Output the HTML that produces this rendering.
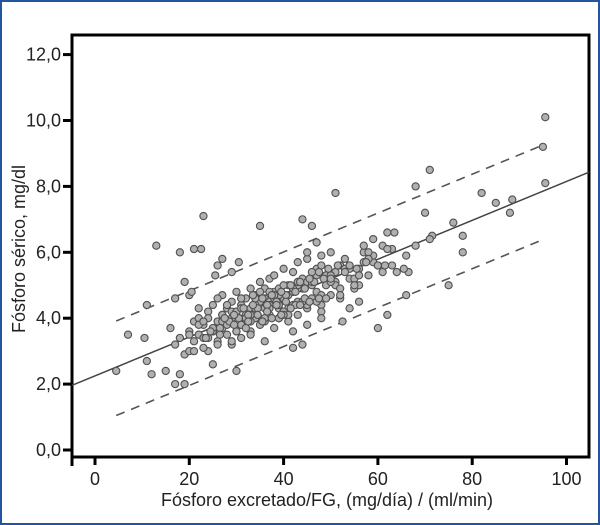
<!DOCTYPE html>
<html><head><meta charset="utf-8"><style>
html,body{margin:0;padding:0;background:#fff}
#wrap{position:relative;width:600px;height:525px;box-sizing:border-box;border:2px solid #2255a0;overflow:hidden}
svg{position:absolute;left:0;top:0}
text{font-family:"Liberation Sans",sans-serif;fill:#222}
</style></head><body>
<div id="wrap">
<svg id="chart" width="600" height="525"></svg>
</div>
<script>
const xTicks=[0,20,40,60,80,100];
const yTicks=[0,2,4,6,8,10,12];
const yTickLabels=["0,0","2,0","4,0","6,0","8,0","10,0","12,0"];
const fitIntercept=2.25, fitSlope=0.059, bandUpper=1.4, bandLower=-1.47;
const xs=[95.5,95,95.5,88,88.5,85,82,78,76,78,71,68,70,71.5,71,66,75,66.5,65.5,62,61,63.5,60,51,44,46,47,23,13,35,4.5,7,11,10.5,12,11,15,19,17,18,25,30,24,42,44,60,62,17,20,22,27,29,
16,17,18,19,20,20,21,21,22,22,23,23,24,24,25,25,26,26,26,27,27,28,28,28,29,29,29,30,30,30,31,31,31,32,32,32,33,33,33,34,34,34,35,35,35,36,36,36,37,37,37,38,38,38,39,39,39,40,40,40,41,41,41,42,42,42,43,43,43,44,44,45,45,46,46,47,47,48,48,49,49,50,50,51,51,52,52,53,54,55,56,57,58,59,
19,21,23,25,27,29,31,33,35,37,39,41,43,45,47,49,51,53,55,57,59,61,63,
18,20,22,24,26,28,30,32,34,36,38,40,42,44,46,48,50,52,54,56,58,60,
21,23,25,27,29,31,33,35,37,39,41,43,45,47,49,
26,28,30,32,34,36,38,40,42,44,46,48,50,52,54,56,
27,30,33,36,39,42,45,48,31,34,37,40,43,46,
64,62,58,57,55,53,66,68,63,59,56,54,50,48,45,
22.5,24.5,26.5,28.5,30.5,32.5,34.5,36.5,38.5,40.5,42.5,44.5,46.5,48.5,25.5,27.5,29.5,31.5,33.5,35.5,37.5,39.5,41.5,43.5,45.5,47.5,49.5,51.5,
30.5,32.5,34.5,36.5,38.5,40.5,42.5,44.5,33.5,35.5,37.5,39.5,41.5,43.5,45.5,47.5,20.5,23.5,26.5,29.5,52.5,55.5,57.5,61.5];
const ys=[10.1,9.2,8.1,7.2,7.6,7.5,7.8,6.5,6.9,6.0,8.5,8.0,7.2,6.5,6.4,4.7,5.0,5.4,5.5,6.6,6.2,6.6,5.6,7.8,7.0,6.8,6.3,7.1,6.2,6.8,2.4,3.5,4.4,3.4,2.3,2.7,2.4,2.0,2.0,2.3,2.6,2.4,3.0,3.1,3.2,3.7,4.1,4.6,4.7,4.3,4.7,5.4,
3.7,3.2,3.4,2.9,3.6,3.0,3.3,3.9,3.5,4.0,3.1,3.8,4.2,3.4,3.6,4.4,3.3,3.9,4.6,3.7,4.1,3.5,4.3,3.9,3.2,4.0,4.5,3.6,4.2,4.8,3.8,4.4,3.4,4.1,4.6,3.9,4.3,4.9,3.6,4.0,4.7,4.2,5.1,3.8,4.4,4.9,3.9,4.6,5.2,4.1,4.5,3.7,4.8,5.3,4.3,4.9,4.0,4.6,5.5,4.2,4.7,5.0,3.9,4.4,5.4,4.8,5.7,4.1,4.5,5.2,4.9,5.8,4.3,5.1,4.6,5.5,4.8,5.9,4.4,5.3,5.0,6.0,4.7,5.4,5.1,5.6,4.6,5.8,5.2,4.9,5.5,6.0,5.3,5.7,5.1,
3.0,3.4,3.6,3.9,4.2,3.8,4.1,4.5,4.4,4.7,4.3,4.9,5.1,4.5,5.3,5.0,5.5,5.2,5.7,5.9,5.4,6.1,6.0,
3.5,3.8,4.0,3.2,4.4,4.1,3.7,4.3,4.0,4.6,4.2,4.8,4.5,5.0,4.7,5.1,4.9,5.5,5.3,6.0,5.6,6.1,
3.9,3.7,4.1,3.3,4.6,3.5,4.8,4.3,4.4,4.1,5.0,4.4,5.3,4.6,5.6,
3.8,4.2,4.0,4.4,4.3,4.7,4.1,4.9,4.5,5.1,4.2,5.3,4.7,5.6,5.0,5.8,
3.6,3.9,3.3,4.0,3.6,3.8,4.0,4.3,4.6,4.8,5.0,5.1,5.4,5.4,
6.1,5.8,6.2,5.0,5.4,5.9,6.2,5.6,6.4,4.5,4.3,5.2,5.6,6.0,6.1,
3.6,3.7,3.9,4.0,4.1,4.3,4.4,4.5,4.7,4.8,4.9,5.1,5.2,5.3,4.0,4.1,4.3,4.4,4.6,4.7,4.8,5.0,5.1,5.2,5.4,5.5,5.6,5.7,
3.9,4.1,4.2,4.4,4.5,4.4,4.6,4.7,3.9,4.0,4.1,4.3,4.4,4.5,4.6,4.8,3.4,3.5,3.8,3.9,5.5,5.7,5.6,6.0];
const svg=document.getElementById('chart');
const NS='http://www.w3.org/2000/svg';
const L=70,R=587,T=33,B=455;
function sx(v){return 93+v*4.715;}
function sy(v){return 448-v*32.95;}
function mk(tag,attrs,parent){const e=document.createElementNS(NS,tag);for(const k in attrs)e.setAttribute(k,attrs[k]);(parent||svg).appendChild(e);return e;}
const frame=mk('rect',{x:L,y:T,width:R-L,height:B-T,fill:'none',stroke:'#000','stroke-width':3});


const xmin=(L-93)/4.715, xmax=(R-93)/4.715;
const fit=mk('line',{x1:sx(xmin),y1:sy(fitIntercept+fitSlope*xmin),x2:sx(xmax),y2:sy(fitIntercept+fitSlope*xmax),stroke:'#444','stroke-width':1.5});


[[bandUpper,'upper-band-line'],[bandLower,'lower-band-line']].forEach(b=>{
  const l=mk('line',{x1:sx(4.5),y1:sy(fitIntercept+fitSlope*4.5+b[0]),x2:sx(95),y2:sy(fitIntercept+fitSlope*95+b[0]),stroke:'#555','stroke-width':1.6,'stroke-dasharray':'9,7'});
  
  
});
for(let i=0;i<xs.length;i++){
  const c=mk('circle',{cx:sx(xs[i]),cy:sy(ys[i]),r:3.6,fill:'#b0b0b0',stroke:'#505050','stroke-width':1.1});
  
  
}
xTicks.forEach(v=>{
  const t=mk('line',{x1:sx(v),y1:B,x2:sx(v),y2:B+8,stroke:'#000','stroke-width':3});
  
  
  const tx=mk('text',{x:sx(v),y:B+28,'text-anchor':'middle','font-size':18});
  tx.textContent=String(v);
  
  
});
const xt0=mk('line',{x1:L,y1:B,x2:L,y2:B+9,stroke:'#000','stroke-width':3});


yTicks.forEach((v,i)=>{
  const t=mk('line',{x1:L-9,y1:sy(v),x2:L,y2:sy(v),stroke:'#000','stroke-width':3});
  
  
  const tx=mk('text',{x:L-11,y:sy(v)+6,'text-anchor':'end','font-size':18});
  tx.textContent=yTickLabels[i];
  
  
});
const xTitle=mk('text',{x:325,y:504,'text-anchor':'middle','font-size':18});
xTitle.textContent='Fósforo excretado/FG, (mg/día) / (ml/min)';


const yTitle=mk('text',{x:0,y:0,'text-anchor':'middle','font-size':18,transform:'translate(23,247) rotate(-90)'});
yTitle.textContent='Fósforo sérico, mg/dl';


</script>
</body></html>
